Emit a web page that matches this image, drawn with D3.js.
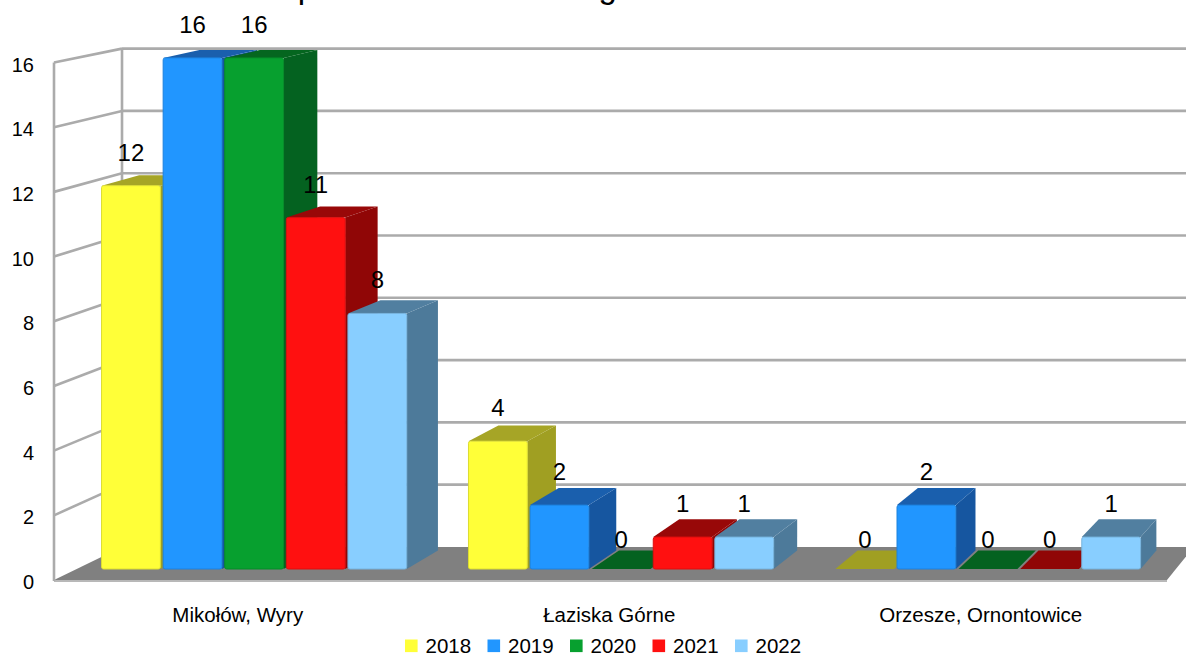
<!DOCTYPE html>
<html>
<head>
<meta charset="utf-8">
<script src="https://cdn.jsdelivr.net/npm/d3@7"></script>
<style>
  html, body { margin: 0; padding: 0; background: #ffffff; }
  svg { display: block; font-family: "Liberation Sans", Arial, sans-serif; }
</style>
</head>
<body>
<svg id="chart" width="1186" height="657"></svg>
<script>
// ---- data ----
const title = "powiatu mikołowskiego w latach 2018-2022";
const categories = ["Mikołów, Wyry", "Łaziska Górne", "Orzesze, Ornontowice"];
const years = ["2018", "2019", "2020", "2021", "2022"];
const values2018 = [12, 4, 0];
const values2019 = [16, 2, 2];
const values2020 = [16, 0, 0];
const values2021 = [11, 1, 0];
const values2022 = [8, 1, 1];
const yTicks = [0, 2, 4, 6, 8, 10, 12, 14, 16];

const seriesValues = [values2018, values2019, values2020, values2021, values2022];
const frontColors = ["#ffff38", "#2196ff", "#07a02f", "#ff1010", "#88ceff"];
const sideColors  = ["#a09f22", "#1656a0", "#046220", "#900606", "#4d7a9a"];
const topColors   = ["#a6a526", "#1a5fad", "#05661f", "#980808", "#517fa0"];

const W = 1186, H = 657;
const svg = d3.select("#chart");

// ---- perspective setup ----
const VP = [1892, -313];
const kBack = 0.963;      // back wall depth factor
const kBarFront = 0.9877; // bar front plane
const kBarBack = 0.9877 * 0.979; // bar back plane
const frameX = [54, 1167];

function proj(X, Y, k) {
  return [VP[0] + (X - VP[0]) * k, VP[1] + (Y - VP[1]) * k];
}

const y = d3.scaleLinear().domain([0, 16]).range([580, 62.5]);
const x0 = d3.scaleBand().domain(categories).range([48, 1162.5]);
const groupHalf = 154.5;
const x1 = d3.scaleBand().domain(years).range([-groupHalf, groupHalf]).paddingInner(0.045);

const gridColor = "#ababab";

// ---- title (clipped at top, as in reference) ----
svg.append("text")
  .attr("x", 615).attr("y", -2)
  .attr("text-anchor", "middle")
  .attr("font-size", 33)
  .attr("fill", "#000")
  .text(title);

// ---- floor ----
const floorPts = [
  proj(frameX[0], y(0), 1), proj(frameX[1], y(0), 1),
  proj(frameX[1], y(0), kBack), proj(frameX[0], y(0), kBack)
];
svg.append("polygon")
  .attr("points", floorPts.map(p => p.join(",")).join(" "))
  .attr("fill", "#808080");
svg.append("line")
  .attr("x1", floorPts[0][0]).attr("y1", floorPts[0][1] + 1)
  .attr("x2", floorPts[1][0]).attr("y2", floorPts[1][1] + 1)
  .attr("stroke", "#b8b8b8").attr("stroke-width", 2);

// ---- back wall grid lines ----
const backX0 = proj(frameX[0], 0, kBack)[0];
const backXR = proj(frameX[1], 0, kBack)[0];
const grid = svg.append("g");
yTicks.filter(t => t > 0).forEach(t => {
  const yb = proj(frameX[0], y(t), kBack)[1];
  grid.append("line")
    .attr("x1", backX0).attr("y1", yb)
    .attr("x2", backXR).attr("y2", yb)
    .attr("stroke", gridColor).attr("stroke-width", 2.6);
});
// back corner vertical
grid.append("line")
  .attr("x1", backX0).attr("y1", proj(frameX[0], y(0), kBack)[1])
  .attr("x2", backX0).attr("y2", proj(frameX[0], y(16), kBack)[1])
  .attr("stroke", gridColor).attr("stroke-width", 2.6);
// left wall lines
yTicks.filter(t => t > 0).forEach(t => {
  const pf = proj(frameX[0], y(t), 1);
  const pb = proj(frameX[0], y(t), kBack);
  grid.append("line")
    .attr("x1", pf[0]).attr("y1", pf[1])
    .attr("x2", pb[0]).attr("y2", pb[1])
    .attr("stroke", gridColor).attr("stroke-width", 2.6);
});
// left wall front vertical
grid.append("line")
  .attr("x1", frameX[0]).attr("y1", y(0) + 1)
  .attr("x2", frameX[0]).attr("y2", y(16))
  .attr("stroke", gridColor).attr("stroke-width", 2.6);

// ---- y axis tick labels ----
svg.append("g").selectAll("text").data(yTicks).join("text")
  .attr("x", 34).attr("y", d => y(d) + 2)
  .attr("text-anchor", "end")
  .attr("dominant-baseline", "central")
  .attr("font-size", 20)
  .attr("fill", "#000")
  .text(d => d);

// ---- bars (painter's order left to right) ----
const bars = svg.append("g");
const labels = [];
categories.forEach((cat, ci) => {
  const cx = x0(cat) + x0.bandwidth() / 2;
  years.forEach((yr, si) => {
    const v = seriesValues[si][ci];
    const xl = cx + x1(yr);
    const xr = xl + x1.bandwidth();
    const yt = y(v), yb = y(0);
    const g = bars.append("g");
    const poly = (pts, fill) => g.append("polygon")
      .attr("points", pts.map(p => p.join(",")).join(" "))
      .attr("fill", fill);
    if (v > 0) {
      poly([proj(xr, yt, kBarFront), proj(xr, yt, kBarBack), proj(xr, yb, kBarBack), proj(xr, yb, kBarFront)], sideColors[si]);
      poly([proj(xl, yt, kBarFront), proj(xr, yt, kBarFront), proj(xr, yt, kBarBack), proj(xl, yt, kBarBack)], topColors[si]);
      const a = proj(xl, yt, kBarFront), b = proj(xr, yb, kBarFront);
      g.append("rect")
        .attr("x", a[0]).attr("y", a[1])
        .attr("width", b[0] - a[0]).attr("height", b[1] - a[1])
        .attr("rx", 2)
        .attr("fill", frontColors[si])
        .attr("stroke", d3.color(frontColors[si]).darker(0.4))
        .attr("stroke-width", 1);
    } else {
      poly([proj(xl, yb, kBarFront), proj(xr, yb, kBarFront), proj(xr, yb, kBarBack), proj(xl, yb, kBarBack)], sideColors[si]);
    }
    const fc = proj((xl + xr) / 2, yt, kBarFront);
    labels.push({ x: fc[0], y: fc[1] - (v > 0 ? 25 : 21), text: String(v) });
  });
});

// ---- value labels ----
svg.append("g").selectAll("text").data(labels).join("text")
  .attr("x", d => d.x).attr("y", d => d.y)
  .attr("text-anchor", "middle")
  .attr("font-size", 24)
  .attr("fill", "#000")
  .text(d => d.text);

// ---- category labels ----
svg.append("g").selectAll("text").data(categories).join("text")
  .attr("x", d => x0(d) + x0.bandwidth() / 2 + 4)
  .attr("y", 622)
  .attr("text-anchor", "middle")
  .attr("font-size", 20.5)
  .attr("fill", "#000")
  .text(d => d);

// ---- legend ----
const legendStep = 82.5;
const legendStart = 405;
const leg = svg.append("g");
years.forEach((yr, i) => {
  const lx = legendStart + i * legendStep;
  leg.append("rect")
    .attr("x", lx).attr("y", 639.5)
    .attr("width", 12.6).attr("height", 12.6)
    .attr("fill", frontColors[i]);
  leg.append("text")
    .attr("x", lx + 20.5).attr("y", 653)
    .attr("font-size", 20.5)
    .attr("fill", "#000")
    .text(yr);
});
</script>
</body>
</html>
